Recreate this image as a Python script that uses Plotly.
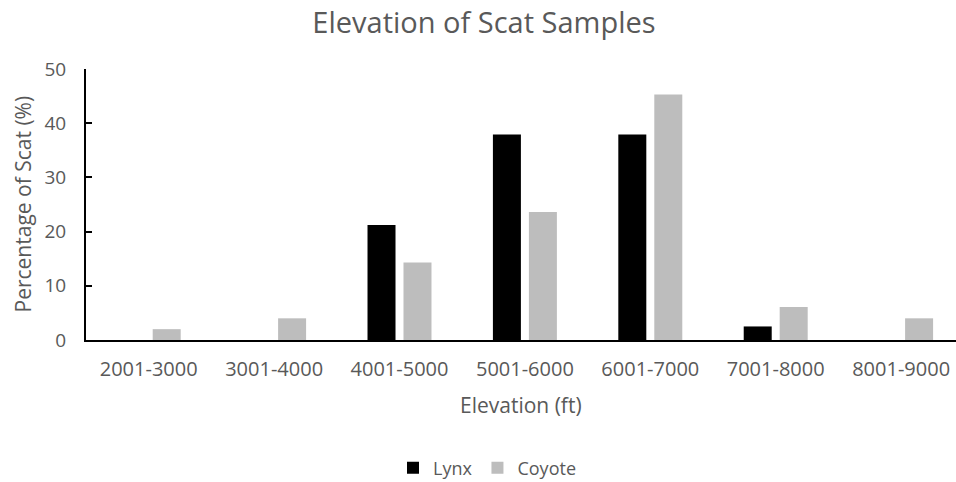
import plotly.graph_objects as go

categories = ["2001-3000", "3001-4000", "4001-5000", "5001-6000", "6001-7000", "7001-8000", "8001-9000"]
lynx = [0, 0, 21.2, 37.9, 37.9, 2.5, 0]
coyote = [2.0, 4.0, 14.3, 23.6, 45.3, 6.1, 4.0]
y_ticks = [0, 10, 20, 30, 40, 50]

FONT = "Open Sans"
GRAY = "#595959"
W, H = 956, 482
L, R, T, B = 86, 0, 69, 142
PH = H - T - B

fig = go.Figure()
fig.add_trace(go.Bar(name="Lynx", x=categories, y=lynx, marker=dict(color="#000000", line=dict(width=0))))
fig.add_trace(go.Bar(name="Coyote", x=categories, y=coyote, marker=dict(color="#BDBDBD", line=dict(width=0))))

fig.update_layout(
    width=W, height=H,
    margin=dict(l=L, r=R, t=T, b=B, pad=0, autoexpand=False),
    paper_bgcolor="white", plot_bgcolor="white",
    barmode="group", bargap=0.426, bargroupgap=0.222,
    font=dict(family=FONT, color=GRAY, size=18),
    title=dict(text="Elevation of Scat Samples", x=484 / W, xanchor="center",
               y=1 - 23 / H, yanchor="middle", font=dict(size=29, color=GRAY, family=FONT)),
    showlegend=True,
    legend=dict(orientation="h", xref="container", yref="container", x=487 / W, xanchor="center",
                y=1 - 468 / H, yanchor="middle",
                font=dict(size=18, color=GRAY), itemwidth=30, traceorder="normal"),
    xaxis=dict(range=[-0.5, -0.5 + (W - L) / 125.4], showline=True, linecolor="#000000", linewidth=2,
               ticks="", showgrid=False, zeroline=False, ticklabelstandoff=10, automargin=False,
               tickfont=dict(size=20, color=GRAY)),
    yaxis=dict(range=[0, 50], tickvals=y_ticks, showline=True, linecolor="#000000", linewidth=2,
               ticks="inside", ticklen=6, tickwidth=2, tickcolor="#000000", ticklabelstandoff=14,
               showgrid=False, zeroline=False, automargin=False, tickfont=dict(size=19, color=GRAY)),
    annotations=[
        dict(text="Elevation (ft)", xref="paper", yref="paper", x=(525 - L) / (963 - L), y=-(405 - (H - B)) / PH,
             xanchor="center", yanchor="middle", showarrow=False, font=dict(size=21, color=GRAY)),
        dict(text="Percentage of Scat (%)", xref="paper", yref="paper", x=-(L - 22) / (W - L), y=0.5,
             xanchor="center", yanchor="middle", textangle=-90, showarrow=False, font=dict(size=21, color=GRAY)),
    ],
)

fig.write_html("out.html", config={"displayModeBar": False},
               post_script="document.body.style.margin='0px';")
